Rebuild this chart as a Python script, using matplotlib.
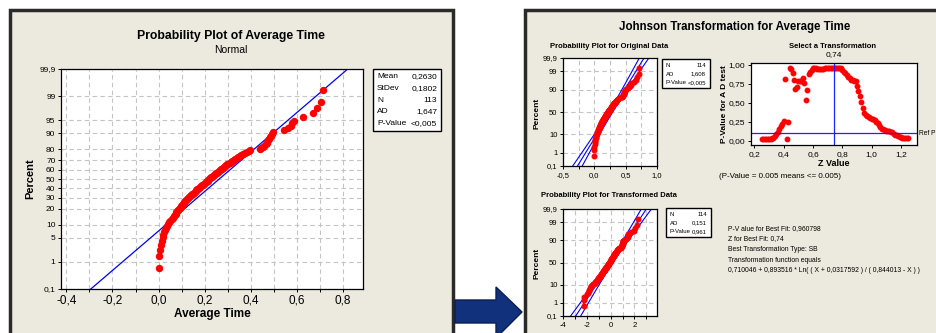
import matplotlib.pyplot as plt
import numpy as np
from statistics import NormalDist
from matplotlib.patches import Rectangle, Polygon

plt.rcParams["font.family"] = ["Liberation Sans", "DejaVu Sans"]

# sorted Average Time values (N = 113)
avg_time = [
    0.000, 0.000, 0.008, 0.012, 0.015, 0.017, 0.020, 0.024, 0.028, 0.032,
    0.036, 0.041, 0.046, 0.051, 0.056, 0.062, 0.066, 0.070, 0.074, 0.077,
    0.080, 0.084, 0.088, 0.091, 0.095, 0.099, 0.102, 0.106, 0.109, 0.112,
    0.116, 0.120, 0.124, 0.128, 0.132, 0.136, 0.140, 0.144, 0.148, 0.152,
    0.156, 0.160, 0.164, 0.168, 0.172, 0.176, 0.180, 0.184, 0.188, 0.192,
    0.196, 0.200, 0.204, 0.208, 0.212, 0.216, 0.220, 0.224, 0.228, 0.232,
    0.237, 0.241, 0.245, 0.249, 0.253, 0.258, 0.262, 0.266, 0.270, 0.275,
    0.279, 0.284, 0.288, 0.293, 0.298, 0.303, 0.308, 0.314, 0.319, 0.325,
    0.331, 0.338, 0.345, 0.352, 0.359, 0.366, 0.374, 0.382, 0.390, 0.398,
    0.438, 0.445, 0.452, 0.458, 0.464, 0.468, 0.472, 0.475, 0.479, 0.483,
    0.488, 0.493, 0.498, 0.543, 0.560, 0.572, 0.580, 0.586, 0.627, 0.670,
    0.685, 0.706, 0.714,
]
# Johnson panel uses N = 114 (one extra zero)
orig_time = sorted(avg_time + [0.000])

mean_fit, sd_fit = 0.2630, 0.1802
orig_fit = (0.262, 0.172)
trans_fit = (0.02, 0.965)
sb_coef = (0.710046, 0.893516, 0.0317592, 0.844013)

# P-values of the AD test for each Z value (0,25 ... 1,25 step 0,01)
z_grid = np.round(np.arange(0.25, 1.2501, 0.01), 2)
p_values = [
    0.02, 0.02, 0.02, 0.02, 0.02, 0.02, 0.02, 0.03, 0.04, 0.06,
    0.09, 0.12, 0.15, 0.19, 0.22, 0.26, 0.81, 0.02, 0.25, 0.96,
    0.94, 0.89, 0.80, 0.68, 0.71, 0.79, 0.78, 0.79, 0.82, 0.76,
    0.53, 0.67, 0.88, 0.91, 0.93, 0.96, 0.96, 0.95, 0.94, 0.94,
    0.94, 0.94, 0.94, 0.95, 0.95, 0.95, 0.95, 0.96, 0.96, 0.96,
    0.96, 0.96, 0.96, 0.95, 0.95, 0.93, 0.91, 0.89, 0.87, 0.84,
    0.82, 0.80, 0.80, 0.79, 0.78, 0.72, 0.66, 0.59, 0.51, 0.43,
    0.37, 0.34, 0.32, 0.31, 0.30, 0.29, 0.28, 0.27, 0.25, 0.23,
    0.21, 0.18, 0.16, 0.15, 0.14, 0.13, 0.13, 0.13, 0.12, 0.11,
    0.09, 0.08, 0.07, 0.06, 0.05, 0.05, 0.04, 0.04, 0.04, 0.03,
    0.03,
]
best_z = 0.74
ref_p = 0.10

pct_ticks_full = [0.1, 1, 5, 10, 20, 30, 40, 50, 60, 70, 80, 90, 95, 99, 99.9]
pct_ticks_small = [0.1, 1, 10, 50, 90, 99, 99.9]
x_ticks_main = [-0.4, -0.3, -0.2, -0.1, 0.0, 0.1, 0.2, 0.3, 0.4, 0.5, 0.6, 0.7, 0.8]
x_labels_main = ['-0,4', '', '-0,2', '', '0,0', '', '0,2', '', '0,4', '', '0,6', '', '0,8']

W, H = 936, 333
BEIGE = '#ECE9DE'
nd = NormalDist()


def zq(p):
    return np.array([nd.inv_cdf(v / 100.0) for v in np.atleast_1d(p)])


def pct_label(p):
    return ('%g' % p).replace('.', ',')


def add_px(l, t, r, b):
    return fig.add_axes([l / W, 1 - b / H, (r - l) / W, (b - t) / H])


def txt(x, y, s, **kw):
    fig.text(x / W, 1 - y / H, s, **kw)


def median_ranks(n):
    i = np.arange(1, n + 1)
    return (i - 0.3) / (n + 0.4) * 100


def prob_axes(ax, ticks, fs):
    ax.set_ylim(zq(0.1)[0], zq(99.9)[0])
    ax.set_yticks(zq(ticks))
    ax.set_yticklabels([pct_label(p) for p in ticks], fontsize=fs)
    ax.grid(True, color='#C4C4C4', linestyle=(0, (4, 3)), linewidth=0.8)
    ax.set_axisbelow(True)
    for s in ax.spines.values():
        s.set_linewidth(0.9)
    ax.tick_params(length=2.5, width=0.7, pad=1.5)


def legend_box(l, t, r, b, rows, fs, dy):
    fig.add_artist(Rectangle((l / W, 1 - b / H), (r - l) / W, (b - t) / H,
                             transform=fig.transFigure, fc='white', ec='black', lw=1))
    for k, (a, v) in enumerate(rows):
        y = t + dy * 0.5 + 2 + k * dy
        txt(l + 4, y, a, fontsize=fs, va='center', ha='left')
        txt(r - 4, y, v, fontsize=fs, va='center', ha='right')


def fit_lines(ax, mu, sd, n, lw):
    zz = np.linspace(zq(0.1)[0] - 0.5, zq(99.9)[0] + 0.5, 60)
    xc = mu + zz * sd
    half = 1.96 * sd * np.sqrt(1.0 / n + zz ** 2 / (2 * (n - 1)))
    for x in (xc - half, xc, xc + half):
        ax.plot(x, zz, color='#0000FF', lw=lw)


fig = plt.figure(figsize=(W / 100, H / 100), dpi=100)
fig.patch.set_facecolor('white')

# panel frames
fig.add_artist(Rectangle((9.5 / W, -0.05), (453 - 9.5) / W, 1.05 - 10.5 / H,
                         transform=fig.transFigure, fc=BEIGE, ec='#2A2A2A', lw=2.5, zorder=-2))
fig.add_artist(Rectangle((524.5 / W, -0.05), 0.5, 1.05 - 10.5 / H,
                         transform=fig.transFigure, fc=BEIGE, ec='#2A2A2A', lw=2.5, zorder=-2))

# arrow between panels
arrow_px = [(455, 300), (496, 300), (496, 287), (522, 312), (496, 338), (496, 323), (455, 323)]
fig.add_artist(Polygon([(x / W, 1 - y / H) for x, y in arrow_px], closed=True,
                       transform=fig.transFigure, fc='#12317C', ec='#0A1E52', lw=1, zorder=3))

# ---------------- left: probability plot ----------------
ax1 = add_px(61, 69, 363, 289)
prob_axes(ax1, pct_ticks_full, 6)
ax1.set_xticks(x_ticks_main)
ax1.set_xticklabels(x_labels_main, fontsize=8.5)
ax1.set_xlim(-0.423, 0.886)
zz = np.array([zq(0.1)[0] - 0.2, zq(99.9)[0] + 0.2])
ax1.plot(mean_fit + zz * sd_fit, zz, color='#0000FF', lw=0.9)
ax1.plot(avg_time, zq(median_ranks(len(avg_time))), 'o', color='#FF0000', ms=4.3, mec='#FF0000')
ax1.set_facecolor('white')
txt(231, 36, 'Probability Plot of Average Time', fontsize=8.8, weight='bold', ha='center', va='center')
txt(231, 50, 'Normal', fontsize=7.5, ha='center', va='center')
txt(30, 179, 'Percent', fontsize=8, weight='bold', rotation=90, ha='center', va='center')
txt(212, 314, 'Average Time', fontsize=8.5, weight='bold', ha='center', va='center')
legend_box(373, 69, 441, 131, [('Mean', '0,2630'), ('StDev', '0,1802'), ('N', '113'),
                               ('AD', '1,647'), ('P-Value', '<0,005')], 6, 11.6)

# ---------------- right: Johnson transformation ----------------
txt(735, 27, 'Johnson Transformation for Average Time', fontsize=8.3, weight='bold', ha='center', va='center')

# original data
ax2 = add_px(563, 58, 657, 166)
prob_axes(ax2, pct_ticks_small, 5.5)
ax2.set_xticks([-0.5, -0.25, 0, 0.25, 0.5, 0.75, 1.0])
ax2.set_xticklabels(['-0,5', '', '0,0', '', '0,5', '', '1,0'], fontsize=5.5)
fit_lines(ax2, orig_fit[0], orig_fit[1], len(orig_time), 0.8)
ax2.plot(orig_time, zq(median_ranks(len(orig_time))), 'o', color='#FF0000', ms=3.3, mec='#FF0000')
ax2.set_xlim(-0.5, 1.0)
txt(609, 46, 'Probability Plot for Original Data', fontsize=5.5, weight='bold', ha='center', va='center')
txt(537, 113, 'Percent', fontsize=6, weight='bold', rotation=90, ha='center', va='center')
legend_box(662, 59, 710, 88, [('N', '114'), ('AD', '1,608'), ('P-Value', '<0,005')], 4.3, 8.7)

# select a transformation
ax3 = add_px(751, 63, 917, 145)
ax3.plot(z_grid, p_values, 'o', color='#FF0000', ms=3.2, mec='#FF0000')
ax3.axvline(best_z, color='#2020FF', lw=0.9)
ax3.axhline(ref_p, color='#2020FF', lw=0.9)
ax3.set_xlim(0.177, 1.309)
ax3.set_ylim(-0.057, 1.022)
ax3.set_xticks([0.2, 0.4, 0.6, 0.8, 1.0, 1.2])
ax3.set_xticklabels(['0,2', '0,4', '0,6', '0,8', '1,0', '1,2'], fontsize=6)
ax3.set_yticks([0, 0.25, 0.5, 0.75, 1.0])
ax3.set_yticklabels(['0,00', '0,25', '0,50', '0,75', '1,00'], fontsize=6)
ax3.tick_params(length=2.5, width=0.7, pad=1.5)
for s in ax3.spines.values():
    s.set_linewidth(0.9)
ax3.annotate('0,74', xy=(best_z, 1.0), xycoords=('data', 'axes fraction'),
             xytext=(0, 5), textcoords='offset points', ha='center', fontsize=6)
ax3.annotate('Ref P', xy=(1.0, ref_p), xycoords=('axes fraction', 'data'),
             xytext=(1.5, 0), textcoords='offset points', va='center', fontsize=4.8)
txt(833, 46, 'Select a Transformation', fontsize=5.5, weight='bold', ha='center', va='center')
txt(725, 104, 'P-Value for A D test', fontsize=6, weight='bold', rotation=90, ha='center', va='center')
txt(834, 163, 'Z Value', fontsize=6.5, weight='bold', ha='center', va='center')
txt(719, 176, '(P-Value = 0.005 means <= 0.005)', fontsize=5.8, ha='left', va='center')

# transformed data
a0, a1, c0, c1 = sb_coef
xo = np.array(orig_time)
trans = a0 + a1 * np.log((xo + c0) / (c1 - xo))
ax4 = add_px(563, 209, 657, 316)
prob_axes(ax4, pct_ticks_small, 5.5)
ax4.set_xticks([-4, -3, -2, -1, 0, 1, 2, 3])
ax4.set_xticklabels(['-4', '', '-2', '', '0', '', '2', ''], fontsize=5.5)
fit_lines(ax4, trans_fit[0], trans_fit[1], len(orig_time), 0.8)
ax4.plot(trans, zq(median_ranks(len(trans))), 'o', color='#FF0000', ms=3.3, mec='#FF0000')
ax4.set_xlim(-4.03, 3.9)
txt(609, 196, 'Probability Plot for Transformed Data', fontsize=5.5, weight='bold', ha='center', va='center')
txt(537, 263, 'Percent', fontsize=6, weight='bold', rotation=90, ha='center', va='center')
legend_box(666, 208, 711, 237, [('N', '114'), ('AD', '0,151'), ('P-Value', '0,961')], 4.3, 8.7)

info = ['P-V alue for Best Fit: 0,960798',
        'Z for Best Fit: 0,74',
        'Best Transformation Type: SB',
        'Transformation function equals',
        '0,710046 + 0,893516 * Ln( ( X + 0,0317592 ) / ( 0,844013 - X ) )']
for k, line in enumerate(info):
    txt(728, 228.5 + k * 10.5, line, fontsize=4.85, ha='left', va='center')

fig.savefig('out.png', dpi=100)
